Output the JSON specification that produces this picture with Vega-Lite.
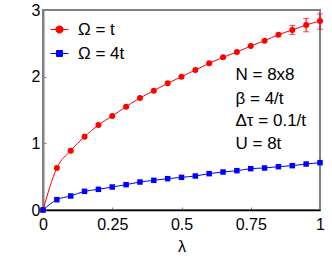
{
  "$schema": "https://vega.github.io/schema/vega-lite/v6.json",
  "autosize": "none",
  "width": 277,
  "height": 200,
  "padding": {"left": 43, "top": 10, "right": 12, "bottom": 47},
  "background": "white",
  "config": {
    "font": "Liberation Sans",
    "view": {"stroke": "#808080", "strokeWidth": 2},
    "legend": {
      "title": null, "orient": "none", "legendX": 7, "legendY": 10,
      "labelFontSize": 17, "labelColor": "black", "symbolSize": 324,
      "symbolStrokeWidth": 1, "rowPadding": 6, "symbolOffset": 0, "labelOffset": 9, "padding": 0,
      "symbolType": "M-1,0H1"
    }
  },
  "datasets": {
    "main": [
      {"lam": 0, "v": 0, "s": "Ω = t"},
      {"lam": 0.05, "v": 0.63, "s": "Ω = t"},
      {"lam": 0.1, "v": 0.89, "s": "Ω = t"},
      {"lam": 0.15, "v": 1.1, "s": "Ω = t"},
      {"lam": 0.2, "v": 1.275, "s": "Ω = t"},
      {"lam": 0.25, "v": 1.41, "s": "Ω = t"},
      {"lam": 0.3, "v": 1.55, "s": "Ω = t"},
      {"lam": 0.35, "v": 1.68, "s": "Ω = t"},
      {"lam": 0.4, "v": 1.79, "s": "Ω = t"},
      {"lam": 0.45, "v": 1.9, "s": "Ω = t"},
      {"lam": 0.5, "v": 2.0, "s": "Ω = t"},
      {"lam": 0.55, "v": 2.1, "s": "Ω = t"},
      {"lam": 0.6, "v": 2.2, "s": "Ω = t"},
      {"lam": 0.65, "v": 2.29, "s": "Ω = t"},
      {"lam": 0.7, "v": 2.37, "s": "Ω = t"},
      {"lam": 0.75, "v": 2.46, "s": "Ω = t"},
      {"lam": 0.8, "v": 2.54, "s": "Ω = t"},
      {"lam": 0.85, "v": 2.63, "s": "Ω = t"},
      {"lam": 0.9, "v": 2.7, "s": "Ω = t"},
      {"lam": 0.95, "v": 2.775, "s": "Ω = t"},
      {"lam": 1.0, "v": 2.835, "s": "Ω = t"},
      {"lam": 0, "v": 0, "s": "Ω = 4t"},
      {"lam": 0.05, "v": 0.155, "s": "Ω = 4t"},
      {"lam": 0.1, "v": 0.21, "s": "Ω = 4t"},
      {"lam": 0.15, "v": 0.28, "s": "Ω = 4t"},
      {"lam": 0.2, "v": 0.31, "s": "Ω = 4t"},
      {"lam": 0.25, "v": 0.345, "s": "Ω = 4t"},
      {"lam": 0.3, "v": 0.38, "s": "Ω = 4t"},
      {"lam": 0.35, "v": 0.42, "s": "Ω = 4t"},
      {"lam": 0.4, "v": 0.445, "s": "Ω = 4t"},
      {"lam": 0.45, "v": 0.47, "s": "Ω = 4t"},
      {"lam": 0.5, "v": 0.49, "s": "Ω = 4t"},
      {"lam": 0.55, "v": 0.51, "s": "Ω = 4t"},
      {"lam": 0.6, "v": 0.545, "s": "Ω = 4t"},
      {"lam": 0.65, "v": 0.57, "s": "Ω = 4t"},
      {"lam": 0.7, "v": 0.59, "s": "Ω = 4t"},
      {"lam": 0.75, "v": 0.62, "s": "Ω = 4t"},
      {"lam": 0.8, "v": 0.63, "s": "Ω = 4t"},
      {"lam": 0.85, "v": 0.65, "s": "Ω = 4t"},
      {"lam": 0.9, "v": 0.665, "s": "Ω = 4t"},
      {"lam": 0.95, "v": 0.69, "s": "Ω = 4t"},
      {"lam": 1.0, "v": 0.71, "s": "Ω = 4t"}
    ],
    "err": [
      {"lam": 0.9, "lo": 2.634, "hi": 2.769},
      {"lam": 0.95, "lo": 2.673, "hi": 2.874},
      {"lam": 1.0, "lo": 2.71, "hi": 2.94}
    ],
    "notes": [
      {"lam": 0.695, "v": 2.02, "t": "N = 8x8"},
      {"lam": 0.695, "v": 1.67, "t": "β = 4/t"},
      {"lam": 0.695, "v": 1.33, "t": "Δτ = 0.1/t"},
      {"lam": 0.695, "v": 0.99, "t": "U = 8t"}
    ]
  },
  "encoding": {
    "x": {
      "field": "lam", "type": "quantitative",
      "scale": {"domain": [0, 1], "nice": false},
      "axis": {
        "title": "λ", "titleFontSize": 16, "titleFontWeight": "normal", "titlePadding": 6,
        "values": [0, 0.25, 0.5, 0.75, 1], "labelExpr": "'' + datum.value",
        "labelFontSize": 16, "labelColor": "black", "labelPadding": 9,
        "tickSize": -3, "tickColor": "#808080", "domainColor": "black", "domainWidth": 1.5,
        "grid": false, "labelFlush": false, "labelOverlap": false
      }
    },
    "y": {
      "field": "v", "type": "quantitative",
      "scale": {"domain": [0, 3], "nice": false},
      "axis": {
        "title": null, "values": [0, 1, 2, 3], "format": "d",
        "labelFontSize": 16, "labelColor": "black", "labelPadding": 6,
        "tickSize": -3, "tickColor": "#808080", "domainColor": "#808080", "domainWidth": 2,
        "grid": false, "labelFlush": false, "labelOverlap": false
      }
    },
    "color": {
      "field": "s", "type": "nominal",
      "scale": {"domain": ["Ω = t", "Ω = 4t"], "range": ["#ff0000", "#0000ff"]},
      "legend": {
        "encode": {"symbols": {"update": {"shape": {"signal": "datum.value == 'Ω = t' ? 'M-1,0H1M-0.4,0A0.4,0.4 0 1,0 0.4,0A0.4,0.4 0 1,0 -0.4,0Z' : 'M-1,0H1M-0.33,-0.33H0.33V0.33H-0.33Z'"}, "fill": {"signal": "datum.value == 'Ω = t' ? '#ff0000' : '#0000ff'"}, "stroke": {"signal": "datum.value == 'Ω = t' ? '#ff0000' : '#0000ff'"}}}}
      }
    }
  },
  "layer": [
    {
      "data": {"name": "main"},
      "mark": {"type": "line", "interpolate": "monotone", "strokeWidth": 1, "clip": true}
    },
    {
      "data": {"name": "err"},
      "mark": {"type": "rule", "color": "#ff0000", "strokeWidth": 1},
      "encoding": {
        "y": {"field": "lo", "type": "quantitative"},
        "y2": {"field": "hi"},
        "color": null
      }
    },
    {
      "data": {"name": "err"},
      "mark": {"type": "tick", "orient": "horizontal", "color": "#ff0000", "size": 6, "thickness": 1},
      "encoding": {"y": {"field": "lo", "type": "quantitative"}, "color": null}
    },
    {
      "data": {"name": "err"},
      "mark": {"type": "tick", "orient": "horizontal", "color": "#ff0000", "size": 6, "thickness": 1},
      "encoding": {"y": {"field": "hi", "type": "quantitative"}, "color": null}
    },
    {
      "data": {"name": "main"},
      "transform": [{"filter": "datum.s == 'Ω = t'"}],
      "mark": {"type": "point", "shape": "circle", "filled": true, "opacity": 1, "size": 36}
    },
    {
      "data": {"name": "main"},
      "transform": [{"filter": "datum.s == 'Ω = 4t'"}],
      "mark": {"type": "point", "shape": "square", "filled": true, "opacity": 1, "size": 30}
    },
    {
      "data": {"name": "notes"},
      "mark": {"type": "text", "align": "left", "baseline": "middle", "fontSize": 17, "color": "black"},
      "encoding": {
        "text": {"field": "t"},
        "color": null
      }
    }
  ]
}
